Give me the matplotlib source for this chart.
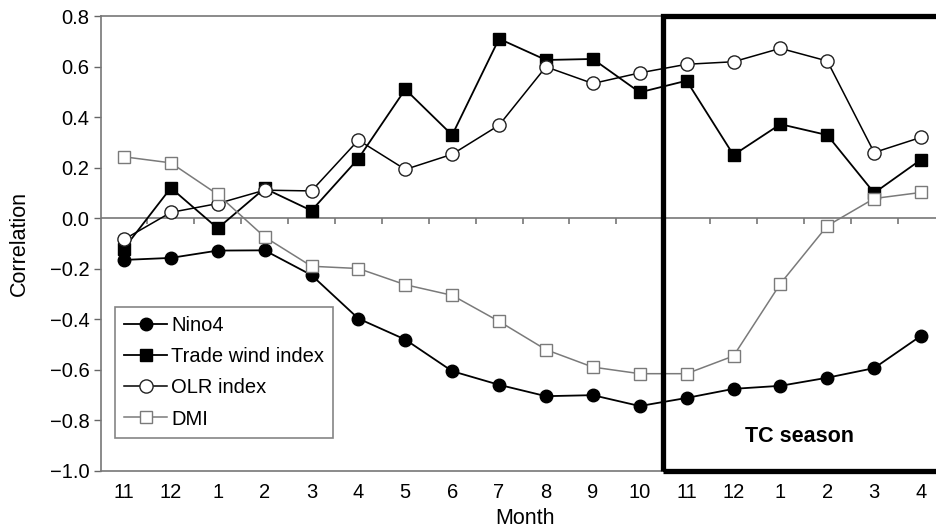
import numpy as np
import matplotlib.pyplot as plt
from matplotlib.patches import Rectangle

plt.rcParams['font.family'] = ['Liberation Sans', 'DejaVu Sans']
plt.rcParams['axes.unicode_minus'] = True

# Data
months = ['11', '12', '1', '2', '3', '4', '5', '6', '7', '8', '9', '10',
          '11', '12', '1', '2', '3', '4']
nino4 = [-0.165, -0.157, -0.128, -0.127, -0.225, -0.397, -0.480, -0.605, -0.659,
         -0.704, -0.700, -0.743, -0.711, -0.675, -0.663, -0.631, -0.593, -0.465]
trade_wind = [-0.12, 0.12, -0.04, 0.118, 0.03, 0.236, 0.51, 0.329, 0.71,
              0.626, 0.63, 0.498, 0.544, 0.25, 0.372, 0.329, 0.10, 0.232]
olr = [-0.084, 0.023, 0.058, 0.111, 0.108, 0.309, 0.193, 0.253, 0.368,
       0.599, 0.533, 0.575, 0.609, 0.619, 0.672, 0.622, 0.26, 0.32]
dmi = [0.243, 0.219, 0.094, -0.074, -0.19, -0.199, -0.263, -0.305, -0.408,
       -0.52, -0.589, -0.615, -0.615, -0.545, -0.259, -0.03, 0.078, 0.102]
yticks = [-1.0, -0.8, -0.6, -0.4, -0.2, 0.0, 0.2, 0.4, 0.6, 0.8]

x = np.arange(len(months))

fig = plt.figure(figsize=(9.36, 5.31), dpi=100)
ax = fig.add_axes([100.5 / 936, 1 - 471 / 531, 844 / 936, 455 / 531])

ax.plot(x, nino4, '-o', color='black', lw=1.3, ms=9, mfc='black', mec='black', label='Nino4')
ax.plot(x, trade_wind, '-s', color='black', lw=1.3, ms=9, mfc='black', mec='black',
        label='Trade wind index')
ax.plot(x, olr, '-o', color='black', lw=1.1, ms=9.5, mfc='white', mec='#222222', mew=1.0,
        label='OLR index')
ax.plot(x, dmi, '-s', color='#7a7a7a', lw=1.1, ms=8.5, mfc='white', mec='#7a7a7a', mew=1.0,
        label='DMI')

ax.set_xlim(-0.5, len(months) - 0.5)
ax.set_ylim(-1.0, 0.8)
ax.set_yticks(yticks)
ax.set_yticklabels([f'{v:.1f}'.replace('-', '\u2212') for v in yticks])
ax.set_xticks(x)
ax.set_xticklabels(months)
ax.tick_params(axis='x', length=0, pad=9, labelsize=14.5)
ax.tick_params(axis='y', length=5, width=1, color='#666666', direction='out', labelsize=14.5, pad=3)

for s in ['top', 'bottom', 'left']:
    ax.spines[s].set_color('#777777')
    ax.spines[s].set_linewidth(1.2)
ax.spines['right'].set_visible(False)

# zero line with category tick marks
ax.axhline(0, color='#777777', lw=1.2, zorder=1)
ax.vlines(np.arange(0.5, len(months) - 1, 1), -0.022, 0, color='#777777', lw=1.2, zorder=1)

# TC season box
ax.add_patch(Rectangle((11.5, -1.0), 7, 1.8, fill=False, ec='black', lw=3.8,
                       clip_on=False, zorder=5))
ax.text(14.4, -0.865, 'TC season', ha='center', va='center', fontsize=15.5,
        fontweight='bold')

ax.set_xlabel('Month', fontsize=15.5, va='center', ha='center')
ax.xaxis.set_label_coords((525 - 100.5) / 844, -(519 - 471) / 455)
ax.set_ylabel('Correlation', fontsize=15.5, va='center', ha='center')
ax.yaxis.set_label_coords(-(100.5 - 19) / 844, (471 - 243) / 455)

leg = ax.legend(loc='upper left', bbox_to_anchor=(0.017, 0.36), fontsize=14.5,
                frameon=True, fancybox=False, edgecolor='#666666', handlelength=2.15,
                handletextpad=0.2, labelspacing=0.6, borderpad=0.45, borderaxespad=0)
leg.get_frame().set_linewidth(1.2)

fig.savefig('out.png', dpi=100)
